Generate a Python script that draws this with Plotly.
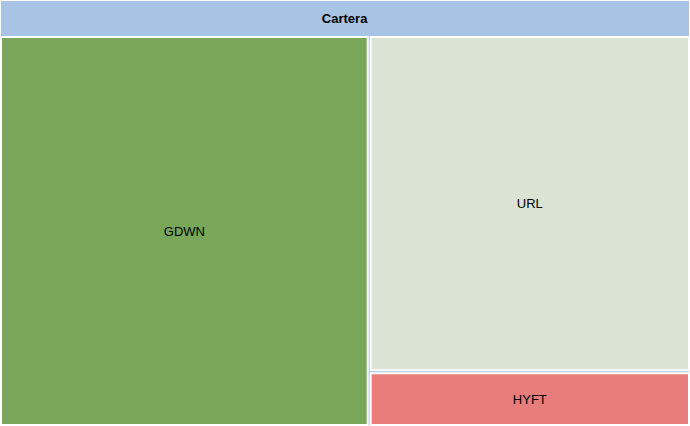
import plotly.graph_objects as go

ids = ["Cartera", "GDWN", "URL", "HYFT"]
labels = ["&nbsp;<br><b><span style='font-size:13px'>Cartera</span></b>", "GDWN", "URL", "HYFT"]
parents = ["", "Cartera", "Cartera", "Cartera"]
values = [100, 53.5, 40.0, 6.5]
colors = ["#a8c4e5", "#78a75a", "#dbe3d4", "#e77e7b"]
font_sizes = [9, 13, 13, 13]

fig = go.Figure(go.Treemap(
    ids=ids,
    labels=labels,
    parents=parents,
    values=values,
    branchvalues="total",
    textinfo="label",
    textposition="middle center",
    textfont=dict(family="Liberation Sans, Arial, sans-serif", size=font_sizes, color="black"),
    marker=dict(colors=colors, line=dict(color="white", width=2),
                pad=dict(t=37, l=1, r=1, b=1)),
    pathbar=dict(visible=False),
    hoverinfo="none",
    sort=False,
))
fig.update_layout(
    width=690, height=426,
    margin=dict(l=0, r=0, t=0, b=0),
    paper_bgcolor="white",
    hovermode=False,
)
fig.write_html("out.html")
